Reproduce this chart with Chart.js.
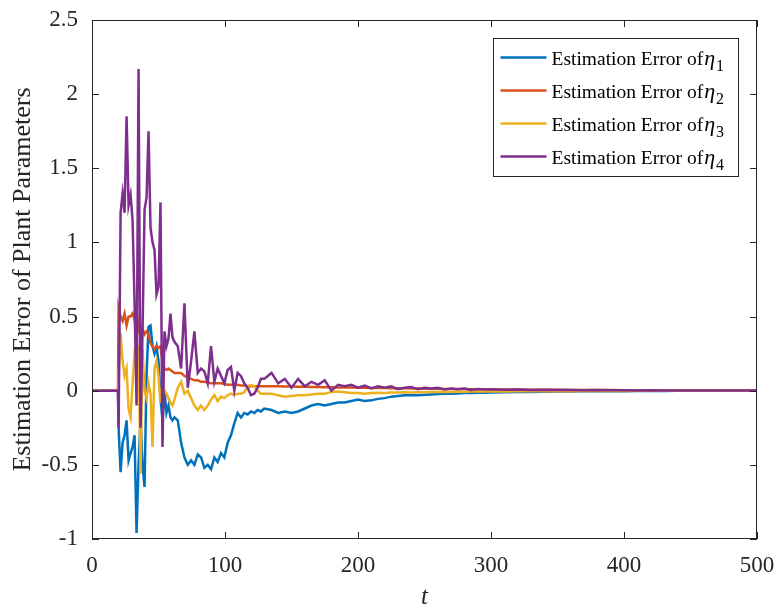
<!DOCTYPE html>
<html>
<head>
<meta charset="utf-8">
<title>Estimation Error of Plant Parameters</title>
<script src="https://cdn.jsdelivr.net/npm/chart.js@4.4.0/dist/chart.umd.min.js"></script>
<style>
  html, body { margin: 0; padding: 0; background: #fff; }
  #wrap { width: 776px; height: 609px; }
</style>
</head>
<body>
<div id="wrap"><canvas id="err-chart" width="776" height="609"></canvas></div>
<script>
// sample times (denser where the estimates are still settling)
const tSamples = [
  0, 19.5,
  20, 21.5, 23, 24.5, 26, 27.5, 29, 30.5, 32, 33.5, 35, 36.5, 38, 39.5, 41, 42.5, 44, 45.5, 47, 48.5, 50, 51.5, 53, 54.5, 56, 57.5, 59, 60.5, 62,
  64.5, 67, 69.5, 72, 74.5, 77, 79.5, 82, 84.5, 87, 89.5, 92, 94.5, 97, 99.5, 102, 104.5, 107, 109.5, 112, 114.5, 117, 119.5, 122, 124.5, 127, 129.5,
  135, 140, 145, 150, 155, 160, 165, 170, 175, 180, 185, 190, 195, 200, 205, 210, 215, 220, 225, 230, 235, 240, 245, 250, 255, 260, 265, 270, 275, 280, 285, 290, 295, 300,
  310, 320, 330, 340, 350, 360, 370, 380, 390, 400, 410, 420, 430, 440, 450, 460, 470, 480, 490, 500
];

const errEta1 = [
  0, 0,
  -0.25, -0.55, -0.35, -0.3, -0.2, -0.47, -0.42, -0.38, -0.3, -0.96, -0.5, -0.2, -0.5, -0.65, 0.1, 0.43, 0.44, 0.3, 0.25, 0.3, 0.2, -0.05, -0.2, 0.0, -0.15, -0.1, -0.18, -0.2, -0.18,
  -0.2, -0.35, -0.45, -0.5, -0.47, -0.5, -0.43, -0.45, -0.52, -0.5, -0.53, -0.45, -0.48, -0.42, -0.45, -0.35, -0.3, -0.22, -0.15, -0.18, -0.15, -0.16, -0.14, -0.15, -0.13, -0.14, -0.12,
  -0.13, -0.15, -0.14, -0.15, -0.14, -0.12, -0.1, -0.09, -0.1, -0.09, -0.08, -0.08, -0.07, -0.06, -0.07, -0.065, -0.055, -0.05, -0.04, -0.035, -0.03, -0.03, -0.03, -0.028, -0.025, -0.022, -0.02, -0.02, -0.018, -0.016, -0.015, -0.014, -0.013, -0.012,
  -0.01, -0.009, -0.008, -0.007, -0.006, -0.005, -0.004, -0.004, -0.003, -0.003, -0.002, -0.002, -0.002, -0.001, -0.001, -0.001, -0.001, 0, 0, 0
];

const errEta2 = [
  0, 0,
  0.56, 0.5, 0.47, 0.52, 0.44, 0.5, 0.5, 0.52, 0.48, 0.38, 0.45, 0.35, 0.42, 0.38, 0.4, 0.38, 0.32, 0.3, 0.28, 0.3, 0.29, 0.3, 0.2, 0.15, 0.14, 0.15, 0.14, 0.13, 0.12,
  0.12, 0.12, 0.1, 0.09, 0.08, 0.07, 0.07, 0.06, 0.06, 0.055, 0.05, 0.05, 0.05, 0.05, 0.045, 0.04, 0.04, 0.04, 0.04, 0.035, 0.035, 0.03, 0.03, 0.03, 0.03, 0.03, 0.03,
  0.03, 0.03, 0.028, 0.028, 0.027, 0.026, 0.025, 0.025, 0.024, 0.023, 0.022, 0.022, 0.021, 0.02, 0.02, 0.019, 0.018, 0.018, 0.017, 0.016, 0.016, 0.015, 0.015, 0.014, 0.013, 0.013, 0.012, 0.012, 0.011, 0.011, 0.01, 0.01, 0.01, 0.009,
  0.008, 0.008, 0.007, 0.006, 0.006, 0.005, 0.005, 0.004, 0.004, 0.003, 0.003, 0.003, 0.002, 0.002, 0.002, 0.002, 0.001, 0.001, 0.001, 0.001
];

const errEta3 = [
  0, 0,
  0.1, 0.39, 0.2, 0.1, 0.15, -0.12, -0.18, 0.05, 0.25, 0.2, 0.27, -0.56, 0.28, 0.0, -0.05, 0.05, -0.02, -0.38, 0.15, 0.2, 0.1, -0.08, 0.05, 0.0, -0.02, -0.05, -0.08, -0.1, -0.06,
  0.02, 0.06, -0.02, 0.0, -0.05, -0.1, -0.13, -0.1, -0.13, -0.1, -0.06, -0.03, -0.07, -0.04, -0.05, -0.03, -0.02, -0.03, -0.02, -0.02, -0.01, 0.03, 0.04, 0.03, 0.0, -0.02, -0.02,
  -0.02, -0.03, -0.04, -0.035, -0.03, -0.03, -0.025, -0.02, -0.02, -0.008, -0.005, -0.01, -0.015, -0.015, -0.02, -0.015, -0.013, -0.015, -0.012, -0.012, -0.01, -0.012, -0.01, -0.01, -0.009, -0.009, -0.008, -0.008, -0.007, -0.007, -0.006, -0.006, -0.006, -0.005,
  -0.005, -0.004, -0.004, -0.003, -0.003, -0.003, -0.002, -0.002, -0.002, -0.002, -0.001, -0.001, -0.001, -0.001, -0.001, 0, 0, 0, 0, 0
];

const errEta4 = [
  0, 0,
  -0.25, 1.2, 1.33, 1.2, 1.85, 1.25, 1.32, 1.15, 0.6, -0.1, 2.17, -0.25, 0.4, 1.22, 1.3, 1.75, 1.1, 1.0, 0.95, 0.65, 0.7, 1.27, -0.38, 0.4, 0.3, 0.35, 0.52, 0.36, 0.33,
  0.3, 0.15, 0.59, 0.02, 0.2, 0.4, 0.12, 0.15, 0.13, 0.05, 0.3, 0.06, 0.15, 0.1, 0.05, 0.14, 0.16, 0.0, 0.12, 0.1, 0.05, 0.02, -0.03, -0.02, 0.02, 0.08, 0.08,
  0.12, 0.05, 0.08, 0.02, 0.08, 0.03, 0.06, 0.04, 0.07, 0.0, 0.04, 0.03, 0.04, 0.02, 0.035, 0.015, 0.03, 0.02, 0.03, 0.01, 0.02, 0.025, 0.01, 0.02, 0.015, 0.02, 0.008, 0.015, 0.01, 0.015, 0.005, 0.012, 0.008, 0.01,
  0.006, 0.008, 0.004, 0.006, 0.004, 0.005, 0.003, 0.004, 0.003, 0.003, 0.002, 0.003, 0.002, 0.002, 0.001, 0.002, 0.001, 0.001, 0.001, 0.001
];

const xTickValues = [0, 100, 200, 300, 400, 500];
const yTickValues = [-1, -0.5, 0, 0.5, 1, 1.5, 2, 2.5];

const legendText = 'Estimation Error of';
const legendSubs = ['1', '2', '3', '4'];
const lineColors = ['#0072BD', '#D95319', '#EDB120', '#7E2F8E'];

const axisColor = '#262626';
const serif = "'Liberation Serif', 'Times New Roman', serif";

function toPoints(values) {
    return values.map((v, i) => ({ x: tSamples[i], y: v }));
}

// box around the axes with inward ticks on all four sides
const frameTicks = {
    id: 'frameTicks',
    afterDatasetsDraw(chart) {
        const { ctx, chartArea: a, scales: { x, y } } = chart;
        const len = 7;
        ctx.save();
        ctx.strokeStyle = axisColor;
        ctx.lineWidth = 1;
        ctx.strokeRect(a.left + 0.5, a.top + 0.5, a.right - a.left - 1, a.bottom - a.top - 1);
        ctx.beginPath();
        xTickValues.forEach(v => {
            const px = Math.round(x.getPixelForValue(v)) + 0.5;
            ctx.moveTo(px, a.bottom);
            ctx.lineTo(px, a.bottom - len);
            ctx.moveTo(px, a.top);
            ctx.lineTo(px, a.top + len);
        });
        yTickValues.forEach(v => {
            const py = Math.round(y.getPixelForValue(v)) + 0.5;
            ctx.moveTo(a.left, py);
            ctx.lineTo(a.left + len, py);
            ctx.moveTo(a.right, py);
            ctx.lineTo(a.right - len, py);
        });
        ctx.stroke();
        ctx.restore();
    }
};

// legend box in the upper right, with italic eta and subscript index
const etaLegend = {
    id: 'etaLegend',
    afterDraw(chart) {
        const { ctx, chartArea: a } = chart;
        const w = 245, h = 138;
        const bx = Math.round(a.right - 19 - w) + 0.5;
        const by = Math.round(a.top + 18) + 0.5;
        ctx.save();
        ctx.fillStyle = '#fff';
        ctx.fillRect(bx, by, w, h);
        ctx.strokeStyle = axisColor;
        ctx.lineWidth = 1;
        ctx.strokeRect(bx, by, w, h);

        ctx.textBaseline = 'alphabetic';
        lineColors.forEach((color, i) => {
            const cy = by + 19 + i * 33;
            ctx.strokeStyle = color;
            ctx.lineWidth = 2.5;
            ctx.beginPath();
            ctx.moveTo(bx + 7, cy);
            ctx.lineTo(bx + 53, cy);
            ctx.stroke();

            const base = cy + 7;
            let tx = bx + 58;
            ctx.fillStyle = '#000';
            ctx.font = '19.5px ' + serif;
            ctx.fillText(legendText, tx, base);
            tx += ctx.measureText(legendText).width + 1;
            ctx.font = 'italic 22px ' + serif;
            ctx.fillText('\u03B7', tx, base);
            tx += ctx.measureText('\u03B7').width + 1;
            ctx.font = '16px ' + serif;
            ctx.fillText(legendSubs[i], tx, base + 6);
        });
        ctx.restore();
    }
};

const datasets = [errEta1, errEta2, errEta3, errEta4].map((vals, i) => ({
    label: legendText + ' \u03B7' + legendSubs[i],
    data: toPoints(vals),
    borderColor: lineColors[i],
    borderWidth: 2.5,
    pointRadius: 0,
    tension: 0,
    fill: false,
    order: 4 - i
}));

new Chart(document.getElementById('err-chart'), {
    type: 'line',
    data: { datasets: datasets },
    options: {
        responsive: false,
        animation: false,
        devicePixelRatio: 1,
        events: [],
        layout: { padding: { top: 20, right: 19, left: 0, bottom: 0 } },
        plugins: {
            legend: { display: false },
            tooltip: { enabled: false }
        },
        scales: {
            x: {
                type: 'linear',
                min: 0,
                max: 500,
                afterBuildTicks: s => { s.ticks = xTickValues.map(v => ({ value: v })); },
                afterFit: s => { s.height = 70; s.paddingLeft = 0; s.paddingRight = 0; },
                grid: { display: false, drawTicks: false },
                border: { display: false },
                ticks: { color: axisColor, padding: 13, maxRotation: 0, font: { family: serif, size: 23 }, callback: v => String(v) },
                title: { display: true, text: 't', color: axisColor, padding: { top: 0, bottom: -1 }, font: { family: serif, size: 25, style: 'italic', lineHeight: 1 } }
            },
            y: {
                type: 'linear',
                min: -1,
                max: 2.5,
                afterBuildTicks: s => { s.ticks = yTickValues.map(v => ({ value: v })); },
                afterFit: s => { s.width = 92; s.paddingTop = 0; s.paddingBottom = 0; },
                grid: { display: false, drawTicks: false },
                border: { display: false },
                ticks: { color: axisColor, padding: 14, font: { family: serif, size: 23 }, callback: v => String(v) },
                title: { display: true, text: 'Estimation Error of Plant Parameters', color: axisColor, padding: { top: 8, bottom: 0 }, font: { family: serif, size: 26, lineHeight: 1.2 } }
            }
        }
    },
    plugins: [frameTicks, etaLegend]
});
</script>
</body>
</html>
